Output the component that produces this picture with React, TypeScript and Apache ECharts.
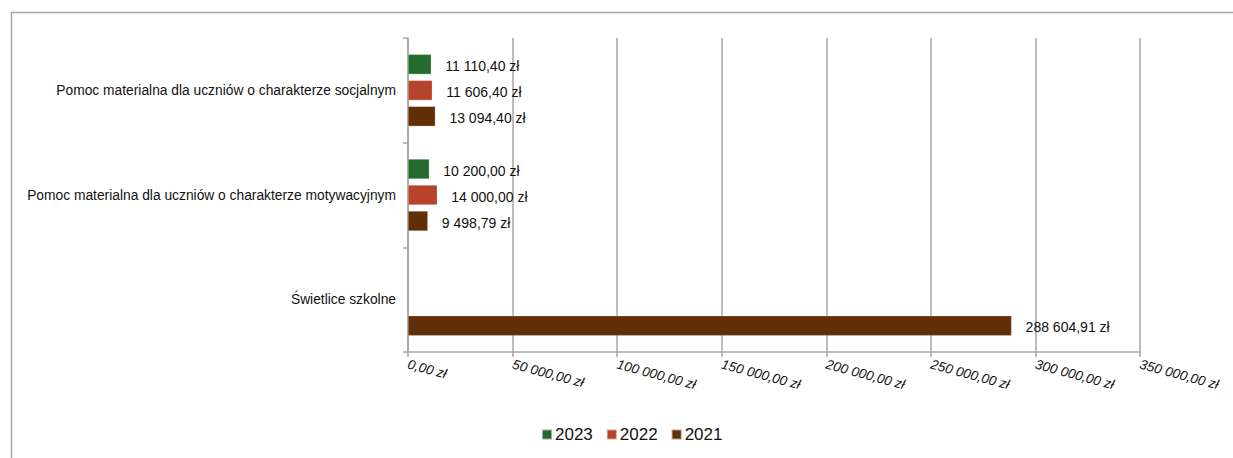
import React, { useEffect, useRef } from "react";
import * as echarts from "echarts";

const categories = [
  "Pomoc materialna dla uczniów o charakterze socjalnym",
  "Pomoc materialna dla uczniów o charakterze motywacyjnym",
  "Świetlice szkolne",
];
const seriesNames = ["2023", "2022", "2021"];
const values2023 = [11110.4, 10200.0, null];
const values2022 = [11606.4, 14000.0, null];
const values2021 = [13094.4, 9498.79, 288604.91];
const colors = ["#236a2f", "#b5442a", "#612f07"];

function fmtPln(v: number): string {
  const neg = v < 0;
  const abs = Math.abs(v);
  const fixed = abs.toFixed(2);
  const [intPart, dec] = fixed.split(".");
  const withSep = intPart.replace(/\B(?=(\d{3})+(?!\d))/g, " ");
  return (neg ? "-" : "") + withSep + "," + dec + " zł";
}

export default function App() {
  const ref = useRef<HTMLDivElement>(null);
  useEffect(() => {
    if (!ref.current) return;
    const chart = echarts.init(ref.current, null, { renderer: "svg" });
    const font = "'Liberation Sans', Arial, sans-serif";
    const data = [values2023, values2022, values2021];
    chart.setOption({
      animation: false,
      backgroundColor: "#ffffff",
      textStyle: { fontFamily: font },
      graphic: [
        {
          type: "rect",
          shape: { x: 11.5, y: 12.5, width: 1400, height: 600 },
          style: { fill: "none", stroke: "#a6a6a6", lineWidth: 1.5 },
          silent: true,
        },
      ],
      legend: {
        data: seriesNames,
        left: 536,
        top: 421,
        itemWidth: 10,
        itemHeight: 10,
        itemGap: 13,
        icon: "rect",
        textStyle: { fontSize: 17, color: "#111", fontFamily: font, padding: [0, 0, 0, -2] },
      },
      grid: { left: 408, right: 93, top: 38, bottom: 106, containLabel: false },
      xAxis: {
        type: "value",
        min: 0,
        max: 350000,
        interval: 50000,
        axisLine: { show: true, lineStyle: { color: "#a6a6a6", width: 1.5 } },
        axisTick: { show: true, length: 5, lineStyle: { color: "#a6a6a6", width: 1.5 } },
        splitLine: { show: true, lineStyle: { color: "#a6a6a6", width: 1.5 } },
        axisLabel: {
          rotate: -15,
          margin: 12,
          fontSize: 13.5,
          fontStyle: "italic",
          color: "#111",
          fontFamily: font,
          formatter: (v: number) => fmtPln(v),
        },
      },
      yAxis: {
        type: "category",
        data: categories,
        inverse: true,
        axisLine: { show: true, lineStyle: { color: "#a6a6a6", width: 1.5 } },
        axisTick: { show: true, length: 5, lineStyle: { color: "#a6a6a6", width: 1.5 } },
        axisLabel: { fontSize: 13.8, color: "#111", margin: 12, fontFamily: font },
      },
      series: seriesNames.map((name, i) => ({
        name,
        type: "bar",
        data: data[i],
        barWidth: 20,
        barGap: "30%",
        itemStyle: { color: colors[i], borderColor: "rgba(255,255,255,0.5)", borderWidth: 0.5 },
        label: {
          show: true,
          position: "right",
          distance: 14,
          offset: [0, 1.5],
          fontSize: 14,
          color: "#111",
          fontFamily: font,
          formatter: (p: any) => (p.value == null ? "" : fmtPln(p.value)),
        },
      })),
    });
    return () => chart.dispose();
  }, []);
  return (
    <div
      ref={ref}
      style={{ position: "fixed", left: 0, top: 0, width: 1233, height: 458 }}
    />
  );
}
